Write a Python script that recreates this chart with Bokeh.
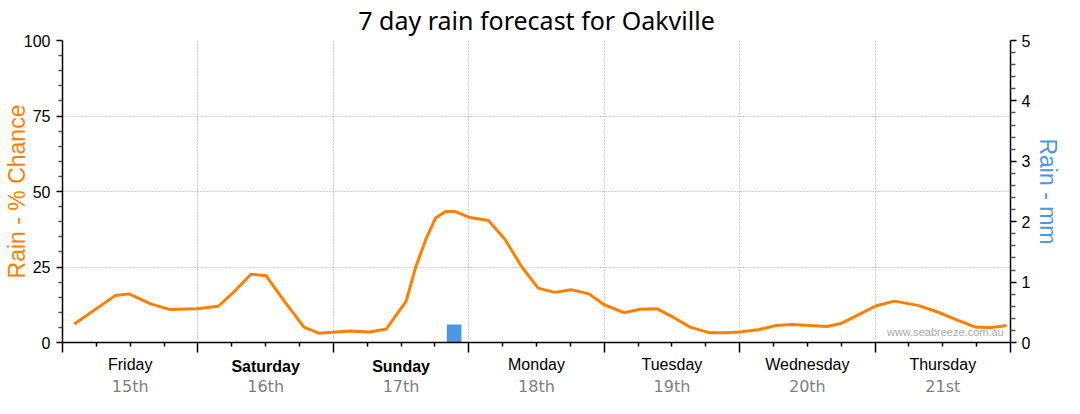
from bokeh.plotting import figure
from bokeh.models import Range1d, LinearAxis, FixedTicker, Label
from bokeh.embed import file_html
from bokeh.resources import INLINE

# ---- data (hours from Friday 00:00) ----
hours = [2.1, 9.4, 11.8, 15.6, 19.1, 23.8, 27.6, 30.2, 33.4, 36.1, 39.3, 42.8, 45.4,
         50.9, 54.4, 57.4, 60.9, 62.6, 64.4, 66.1, 67.9, 69.5, 72.0, 75.5, 78.4,
         81.4, 84.3, 87.2, 90.1, 93.3, 96.0, 99.5, 102.4, 105.3, 108.3, 111.2,
         114.7, 117.6, 120.0, 123.5, 126.4, 129.3, 132.3, 135.5, 138.1, 141.1,
         144.1, 147.4, 151.6, 155.1, 158.6, 161.8, 164.4, 167.3]
chance = [6.1, 15.6, 16.1, 12.8, 10.9, 11.2, 12.0, 16.4, 22.6, 22.1, 13.7, 5.1, 3.1,
          3.8, 3.5, 4.5, 13.7, 25.0, 34.2, 41.2, 43.4, 43.4, 41.5, 40.4, 34.2,
          25.0, 18.0, 16.6, 17.5, 16.1, 12.5, 9.9, 11.0, 11.2, 8.3, 5.1,
          3.2, 3.2, 3.5, 4.3, 5.6, 6.0, 5.6, 5.3, 6.4, 9.2,
          12.1, 13.7, 12.3, 10.1, 7.4, 5.1, 4.9, 5.6]
rain_hours = [69.4]
rain_mm = [0.3]
day_names = ["Friday", "Saturday", "Sunday", "Monday", "Tuesday", "Wednesday", "Thursday"]
day_dates = ["15th", "16th", "17th", "18th", "19th", "20th", "21st"]
bold_days = ["Saturday", "Sunday"]
pct_ticks = [0, 25, 50, 75, 100]
mm_ticks = [0, 1, 2, 3, 4, 5]

ORANGE = "#ff7f00"
BLUE = "#4a98e6"
GRID = "#a0a0a0"

p = figure(width=1064, height=398,
           min_border_left=62, min_border_right=50, min_border_top=40, min_border_bottom=50,
           x_range=Range1d(0, 168), y_range=Range1d(0, 100),
           output_backend="svg", toolbar_location=None)
p.outline_line_color = None
p.background_fill_color = "white"
p.border_fill_color = "white"
p.extra_y_ranges = {"mm": Range1d(0, 5)}

# title
p.title.text = "7 day rain forecast for Oakville"
p.title.align = "center"
p.title.vertical_align = "top"
p.title.text_font = "Noto Sans"
p.title.text_font_size = "25px"
p.title.text_font_style = "normal"
p.title.text_color = "black"
p.title.standoff = 3

# x axis (tick marks only)
xa = p.xaxis[0]
xa.ticker = FixedTicker(ticks=[24 * i for i in range(8)],
                        minor_ticks=[6 * i for i in range(29) if i % 4 != 0])
xa.major_tick_out = 10
xa.major_tick_in = 0
xa.minor_tick_out = 4
xa.minor_tick_in = 0
xa.major_label_text_font_size = "0px"
xa.major_label_standoff = 0
xa.axis_line_color = "black"
xa.axis_line_width = 1.5
xa.major_tick_line_color = "black"
xa.major_tick_line_width = 1.5
xa.minor_tick_line_color = "black"
xa.minor_tick_line_width = 1.5

noon = [24 * i + 12 for i in range(7)]


def label_axis(labels, font, style, color, standoff):
    ax = LinearAxis(ticker=FixedTicker(ticks=noon, minor_ticks=[]))
    ax.major_label_overrides = {t: lab for t, lab in zip(noon, labels)}
    ax.axis_line_color = None
    ax.major_tick_line_color = None
    ax.minor_tick_line_color = None
    ax.major_tick_out = 0
    ax.major_tick_in = 0
    ax.minor_tick_out = 0
    ax.minor_tick_in = 0
    ax.major_label_standoff = standoff
    ax.major_label_text_font = font
    ax.major_label_text_font_size = "16px"
    ax.major_label_text_font_style = style
    ax.major_label_text_color = color
    p.add_layout(ax, "below")
    return ax


label_axis([d if d not in bold_days else "" for d in day_names],
           "Liberation Sans", "normal", "black", 3)
label_axis([d if d in bold_days else "" for d in day_names],
           "Liberation Sans", "bold", "black", -18)
label_axis(day_dates, "DejaVu Sans", "normal", "#808080", -1)

# left axis
ya = p.yaxis[0]
ya.ticker = FixedTicker(ticks=pct_ticks, minor_ticks=[5 * i for i in range(21) if i % 5 != 0])
ya.major_tick_out = 6
ya.major_tick_in = 0
ya.minor_tick_out = 4
ya.minor_tick_in = 0
ya.major_label_standoff = 6
ya.major_label_text_font = "Liberation Sans"
ya.major_label_text_font_size = "16px"
ya.major_label_text_color = "black"
ya.axis_line_color = "black"
ya.axis_line_width = 1.5
ya.major_tick_line_color = "black"
ya.major_tick_line_width = 1.5
ya.minor_tick_line_color = "#555555"
ya.minor_tick_line_width = 1.5
ya.axis_label = "Rain - % Chance"
ya.axis_label_text_font = "Liberation Sans"
ya.axis_label_text_font_size = "23px"
ya.axis_label_text_font_style = "normal"
ya.axis_label_text_color = ORANGE
ya.axis_label_standoff = -9

# right axis
ra = LinearAxis(y_range_name="mm")
ra.ticker = FixedTicker(ticks=mm_ticks, minor_ticks=[round(0.2 * i, 1) for i in range(26) if i % 5 != 0])
ra.major_tick_out = 6
ra.major_tick_in = 0
ra.minor_tick_out = 5
ra.minor_tick_in = 0
ra.major_label_standoff = 5
ra.major_label_text_font = "Liberation Sans"
ra.major_label_text_font_size = "16px"
ra.major_label_text_color = "black"
ra.axis_line_color = "black"
ra.axis_line_width = 1.5
ra.major_tick_line_color = "black"
ra.major_tick_line_width = 1.5
ra.minor_tick_line_color = "#555555"
ra.minor_tick_line_width = 1.5
ra.axis_label = "Rain - mm"
ra.axis_label_text_font = "Liberation Sans"
ra.axis_label_text_font_size = "23px"
ra.axis_label_text_font_style = "normal"
ra.axis_label_text_color = BLUE
ra.axis_label_standoff = 2
p.add_layout(ra, "right")

# grids
p.xgrid.ticker = FixedTicker(ticks=[24 * i for i in range(1, 7)])
p.ygrid.ticker = FixedTicker(ticks=pct_ticks[1:-1])
for g in (p.xgrid[0], p.ygrid[0]):
    g.grid_line_color = GRID
    g.grid_line_dash = "1 2"
    g.grid_line_width = 1

# rain bar and chance line
p.vbar(x=rain_hours, width=2.6, top=rain_mm, bottom=0, y_range_name="mm",
       fill_color=BLUE, line_color=None)
p.line(hours, chance, line_color=ORANGE, line_width=3, line_join="round")

# watermark
p.add_layout(Label(x=166.8, y=3.5, text="www.seabreeze.com.au",
                   text_align="right", text_baseline="middle",
                   text_font="Liberation Sans", text_font_size="11px", text_color="#a8a8a8"))

open("out.html", "w").write(file_html(p, INLINE))
